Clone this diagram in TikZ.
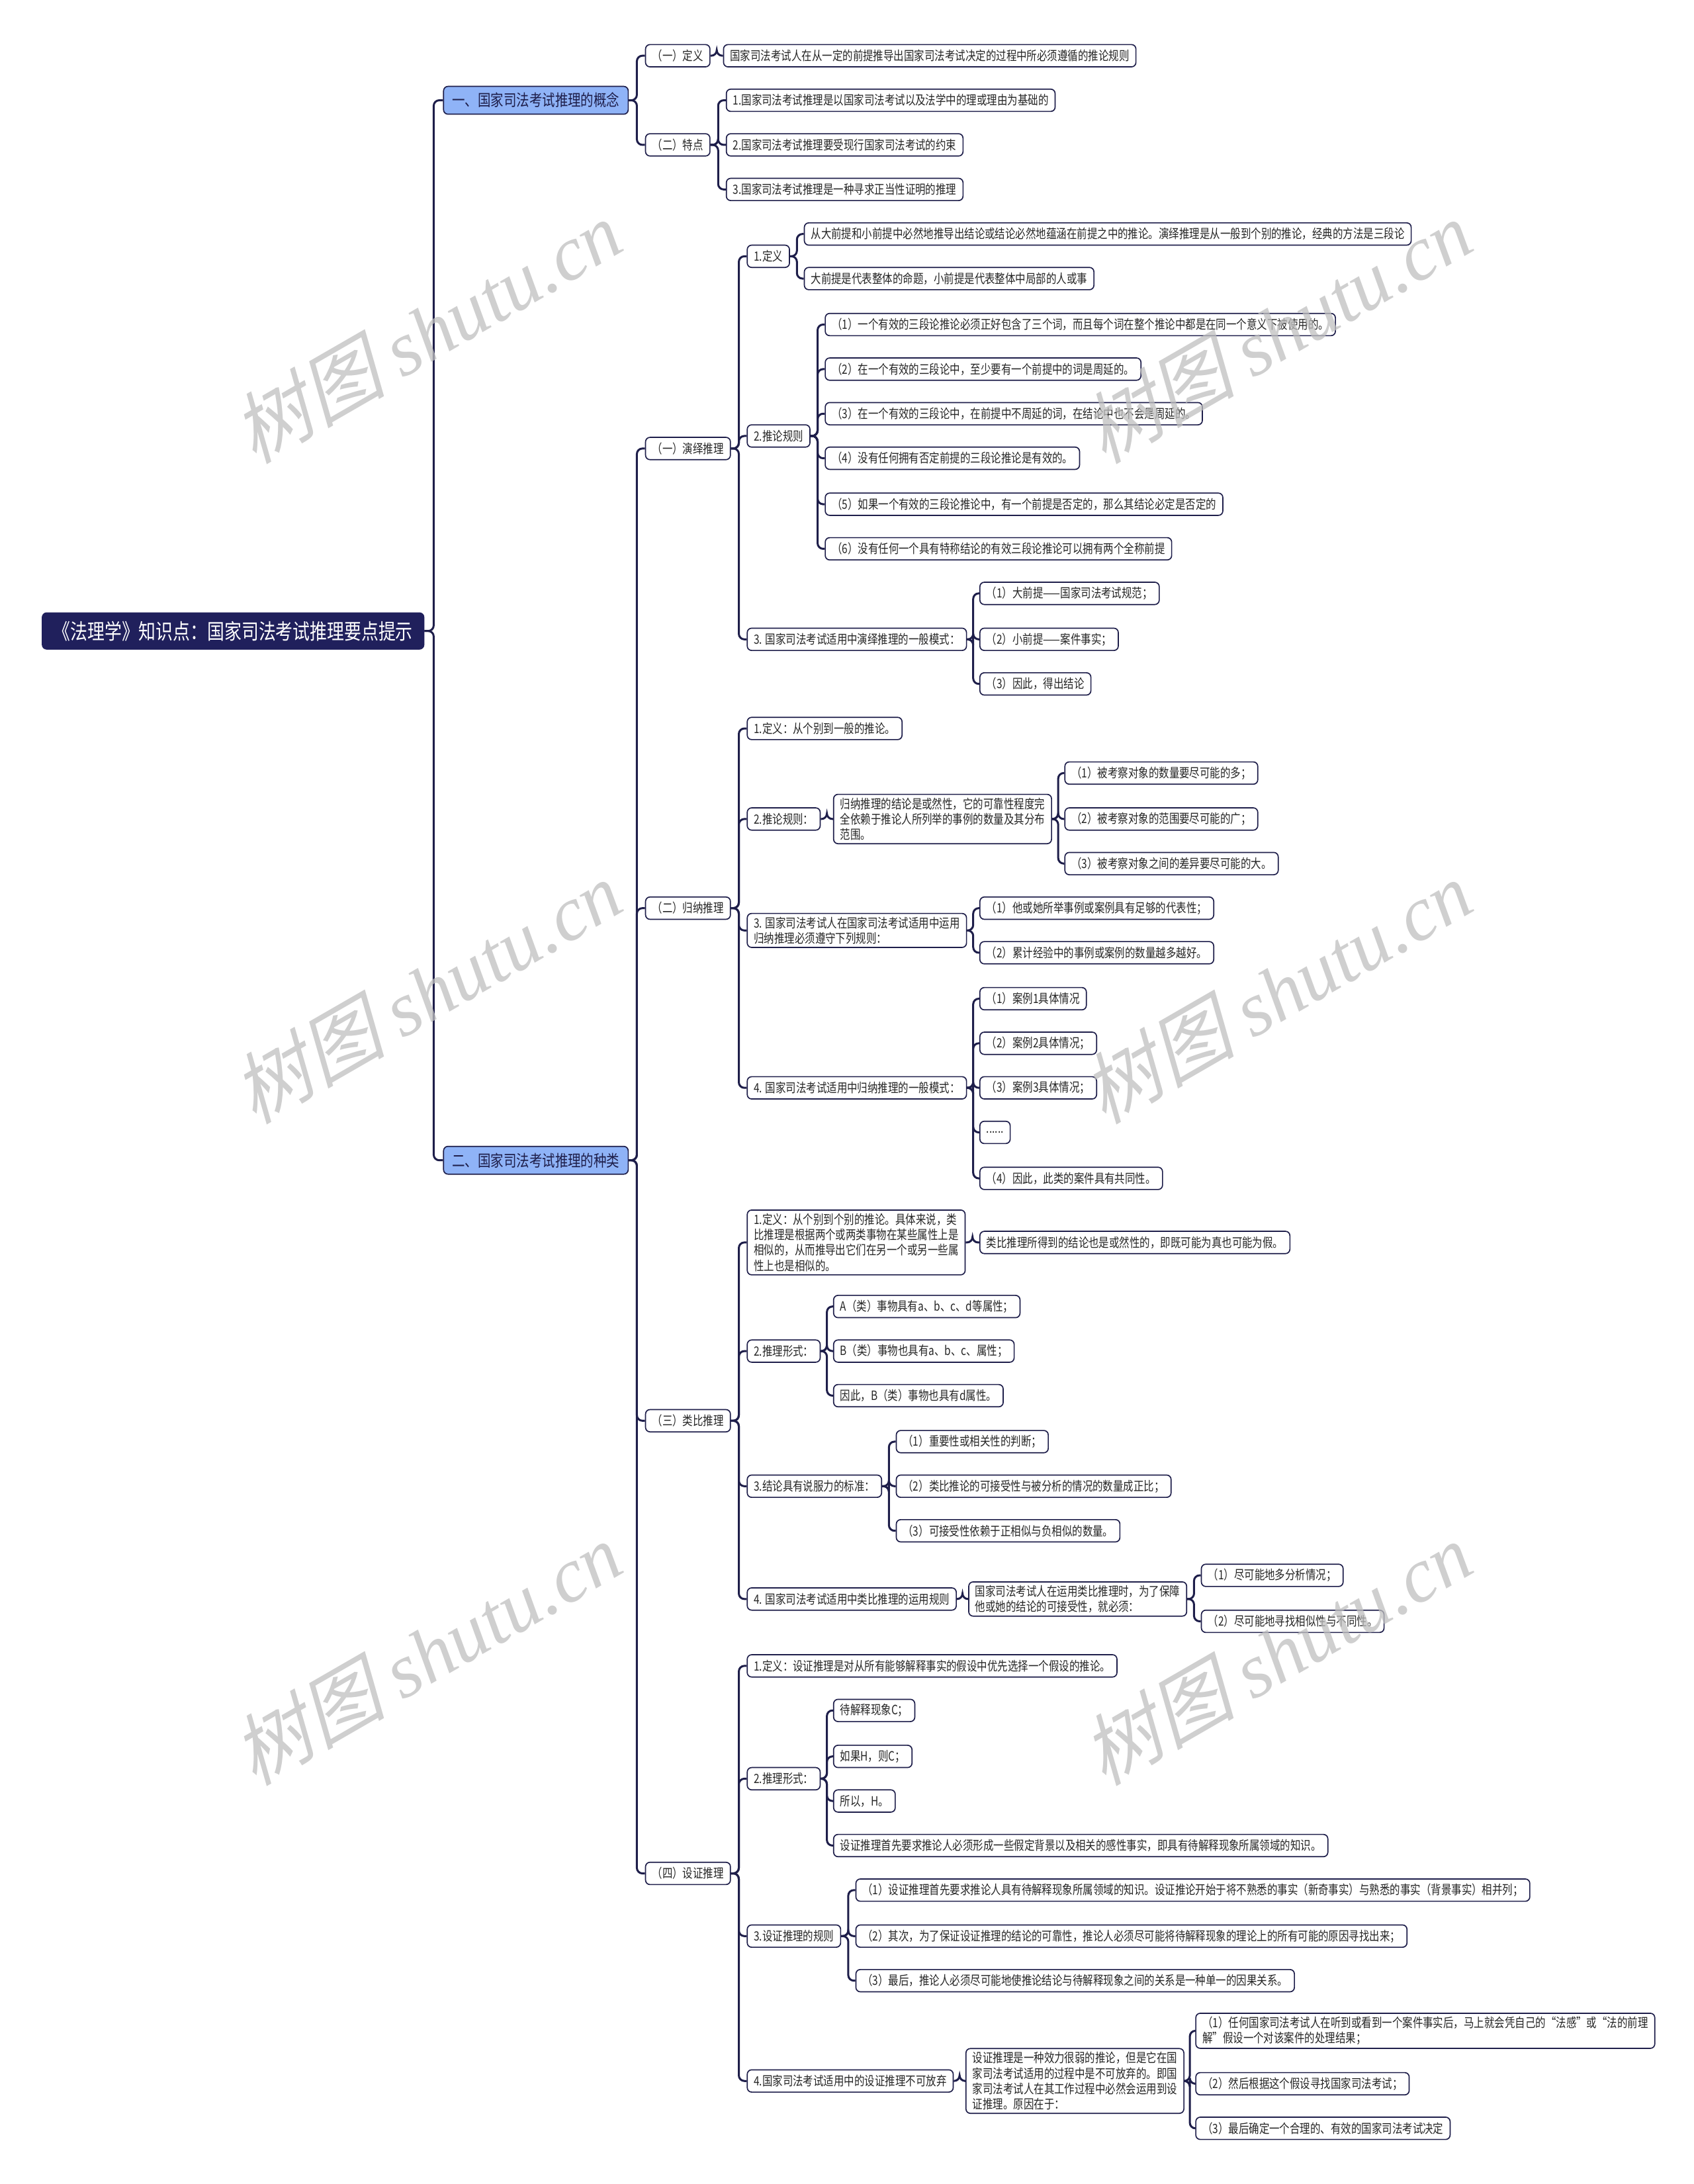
\documentclass[tikz,border=0pt]{standalone}
\usepackage{fontspec}
\setmainfont[FakeStretch=0.80]{Noto Sans CJK SC}
\newfontfamily\wmcjk[FakeSlant=0.25]{Noto Sans CJK SC}
\newfontfamily\wmlat{Liberation Serif}
\usetikzlibrary{calc}
\definecolor{ln}{HTML}{1E1E4A}
\definecolor{rootc}{HTML}{20205C}
\definecolor{lonec}{HTML}{8FB3F7}
\newcommand\lk[2]{\draw[cn] (#1.east) -- ($(#1.east)!0.5!(#1.east -| #2.west)$) |- (#2.west);}
\newcommand\wmark[2]{\node[rotate=30, text=black!25, opacity=0.75, inner sep=0pt] at (#1,#2) {\fontsize{35}{35}\selectfont\wmcjk 树图 \wmlat\itshape shutu.cn};}
\tikzset{
 bx/.style={draw=ln, fill=white, rounded corners=2pt, line width=0.5pt, inner xsep=3pt, inner ysep=1.5pt, minimum height=10.1pt, anchor=west, align=left, font=\fontsize{5.8}{7}\selectfont, text=black!85},
 lone/.style={bx, fill=lonec, minimum height=12.6pt, inner xsep=3.9pt, font=\fontsize{7.3}{8.5}\selectfont, text=ln},
 rt/.style={bx, fill=rootc, draw=rootc, text=white, minimum height=16.4pt, inner xsep=5pt, font=\fontsize{9.7}{11}\selectfont},
 cn/.style={draw=ln, line width=0.9pt, rounded corners=2.5pt},
}
\begin{document}
\begin{tikzpicture}[x=0.6316pt, y=-0.6316pt]
\fill[white] (0,0) rectangle (1216,1568);
\useasboundingbox (0,0) rectangle (1216,1568);

% root and level 1
\node[rt] (root) at (30,453) {《法理学》知识点：国家司法考试推理要点提示};
\node[lone] (A) at (318,72) {一、国家司法考试推理的概念};
\node[lone] (B) at (318,833) {二、国家司法考试推理的种类};

% part A
\node[bx] (A1) at (463,40) {（一）定义};
\node[bx] (A1a) at (519,40) {国家司法考试人在从一定的前提推导出国家司法考试决定的过程中所必须遵循的推论规则};
\node[bx] (A2) at (463,104) {（二）特点};
\node[bx] (A2a) at (521,72) {1.国家司法考试推理是以国家司法考试以及法学中的理或理由为基础的};
\node[bx] (A2b) at (521,104) {2.国家司法考试推理要受现行国家司法考试的约束};
\node[bx] (A2c) at (521,136) {3.国家司法考试推理是一种寻求正当性证明的推理};

% part B level 2
\node[bx] (B1) at (463,322) {（一）演绎推理};
\node[bx] (B2) at (463,652) {（二）归纳推理};
\node[bx] (B3) at (463,1020) {（三）类比推理};
\node[bx] (B4) at (463,1345) {（四）设证推理};

% B1
\node[bx] (d1) at (536,184) {1.定义};
\node[bx] (d1a) at (577,168) {从大前提和小前提中必然地推导出结论或结论必然地蕴涵在前提之中的推论。演绎推理是从一般到个别的推论，经典的方法是三段论};
\node[bx] (d1b) at (577,200) {大前提是代表整体的命题，小前提是代表整体中局部的人或事};
\node[bx] (d2) at (536,313) {2.推论规则};
\node[bx] (d21) at (592,233) {（1）一个有效的三段论推论必须正好包含了三个词，而且每个词在整个推论中都是在同一个意义下被使用的。};
\node[bx] (d22) at (592,265) {（2）在一个有效的三段论中，至少要有一个前提中的词是周延的。};
\node[bx] (d23) at (592,297) {（3）在一个有效的三段论中，在前提中不周延的词，在结论中也不会是周延的。};
\node[bx] (d24) at (592,329) {（4）没有任何拥有否定前提的三段论推论是有效的。};
\node[bx] (d25) at (592,362) {（5）如果一个有效的三段论推论中，有一个前提是否定的，那么其结论必定是否定的};
\node[bx] (d26) at (592,394) {（6）没有任何一个具有特称结论的有效三段论推论可以拥有两个全称前提};
\node[bx] (d3) at (536,459) {3. 国家司法考试适用中演绎推理的一般模式：};
\node[bx] (d31) at (703,426) {（1）大前提——国家司法考试规范；};
\node[bx] (d32) at (703,459) {（2）小前提——案件事实；};
\node[bx] (d33) at (703,491) {（3）因此，得出结论};

% B2
\node[bx] (g1) at (536,523) {1.定义：从个别到一般的推论。};
\node[bx] (g2) at (536,588) {2.推论规则：};
\node[bx] (g2m) at (598,588) {归纳推理的结论是或然性，它的可靠性程度完\\全依赖于推论人所列举的事例的数量及其分布\\范围。};
\node[bx] (g21) at (764,555) {（1）被考察对象的数量要尽可能的多；};
\node[bx] (g22) at (764,588) {（2）被考察对象的范围要尽可能的广；};
\node[bx] (g23) at (764,620) {（3）被考察对象之间的差异要尽可能的大。};
\node[bx] (g3) at (536,668) {3. 国家司法考试人在国家司法考试适用中运用\\归纳推理必须遵守下列规则：};
\node[bx] (g31) at (703,652) {（1）他或她所举事例或案例具有足够的代表性；};
\node[bx] (g32) at (703,684) {（2）累计经验中的事例或案例的数量越多越好。};
\node[bx] (g4) at (536,781) {4. 国家司法考试适用中归纳推理的一般模式：};
\node[bx] (g41) at (703,717) {（1）案例1具体情况};
\node[bx] (g42) at (703,749) {（2）案例2具体情况；};
\node[bx] (g43) at (703,781) {（3）案例3具体情况；};
\node[bx] (g44) at (703,813) {......};
\node[bx] (g45) at (703,846) {（4）因此，此类的案件具有共同性。};

% B3
\node[bx] (l1) at (536,892) {1.定义：从个别到个别的推论。具体来说，类\\比推理是根据两个或两类事物在某些属性上是\\相似的，从而推导出它们在另一个或另一些属\\性上也是相似的。};
\node[bx] (l1a) at (703,892) {类比推理所得到的结论也是或然性的，即既可能为真也可能为假。};
\node[bx] (l2) at (536,970) {2.推理形式：};
\node[bx] (l21) at (598,938) {A（类）事物具有a、b、c、d等属性；};
\node[bx] (l22) at (598,970) {B（类）事物也具有a、b、c、属性；};
\node[bx] (l23) at (598,1002) {因此，B（类）事物也具有d属性。};
\node[bx] (l3) at (536,1067) {3.结论具有说服力的标准：};
\node[bx] (l31) at (643,1035) {（1）重要性或相关性的判断；};
\node[bx] (l32) at (643,1067) {（2）类比推论的可接受性与被分析的情况的数量成正比；};
\node[bx] (l33) at (643,1099) {（3）可接受性依赖于正相似与负相似的数量。};
\node[bx] (l4) at (536,1148) {4. 国家司法考试适用中类比推理的运用规则};
\node[bx] (l4m) at (695,1148) {国家司法考试人在运用类比推理时，为了保障\\他或她的结论的可接受性，就必须：};
\node[bx] (l41) at (862,1131) {（1）尽可能地多分析情况；};
\node[bx] (l42) at (862,1164) {（2）尽可能地寻找相似性与不同性。};

% B4
\node[bx] (s1) at (536,1196) {1.定义：设证推理是对从所有能够解释事实的假设中优先选择一个假设的推论。};
\node[bx] (s2) at (536,1277) {2.推理形式：};
\node[bx] (s21) at (598,1228) {待解释现象C；};
\node[bx] (s22) at (598,1261) {如果H，则C；};
\node[bx] (s23) at (598,1293) {所以，H。};
\node[bx] (s24) at (598,1325) {设证推理首先要求推论人必须形成一些假定背景以及相关的感性事实，即具有待解释现象所属领域的知识。};
\node[bx] (s3) at (536,1390) {3.设证推理的规则};
\node[bx] (s31) at (614,1357) {（1）设证推理首先要求推论人具有待解释现象所属领域的知识。设证推论开始于将不熟悉的事实（新奇事实）与熟悉的事实（背景事实）相并列；};
\node[bx] (s32) at (614,1390) {（2）其次，为了保证设证推理的结论的可靠性，推论人必须尽可能将待解释现象的理论上的所有可能的原因寻找出来；};
\node[bx] (s33) at (614,1422) {（3）最后，推论人必须尽可能地使推论结论与待解释现象之间的关系是一种单一的因果关系。};
\node[bx] (s4) at (536,1494) {4.国家司法考试适用中的设证推理不可放弃};
\node[bx] (s4m) at (693,1494) {设证推理是一种效力很弱的推论，但是它在国\\家司法考试适用的过程中是不可放弃的。即国\\家司法考试人在其工作过程中必然会运用到设\\证推理。原因在于：};
\node[bx] (s41) at (858,1458) {（1）任何国家司法考试人在听到或看到一个案件事实后，马上就会凭自己的“法感”或“法的前理\\解”假设一个对该案件的处理结果；};
\node[bx] (s42) at (858,1496) {（2）然后根据这个假设寻找国家司法考试；};
\node[bx] (s43) at (858,1528) {（3）最后确定一个合理的、有效的国家司法考试决定};

% connectors
\lk{root}{A} \lk{root}{B}
\lk{A}{A1} \lk{A}{A2}
\lk{A1}{A1a}
\lk{A2}{A2a} \lk{A2}{A2b} \lk{A2}{A2c}
\lk{B}{B1} \lk{B}{B2} \lk{B}{B3} \lk{B}{B4}
\lk{B1}{d1} \lk{B1}{d2} \lk{B1}{d3}
\lk{d1}{d1a} \lk{d1}{d1b}
\lk{d2}{d21} \lk{d2}{d22} \lk{d2}{d23} \lk{d2}{d24} \lk{d2}{d25} \lk{d2}{d26}
\lk{d3}{d31} \lk{d3}{d32} \lk{d3}{d33}
\lk{B2}{g1} \lk{B2}{g2} \lk{B2}{g3} \lk{B2}{g4}
\lk{g2}{g2m}
\lk{g2m}{g21} \lk{g2m}{g22} \lk{g2m}{g23}
\lk{g3}{g31} \lk{g3}{g32}
\lk{g4}{g41} \lk{g4}{g42} \lk{g4}{g43} \lk{g4}{g44} \lk{g4}{g45}
\lk{B3}{l1} \lk{B3}{l2} \lk{B3}{l3} \lk{B3}{l4}
\lk{l1}{l1a}
\lk{l2}{l21} \lk{l2}{l22} \lk{l2}{l23}
\lk{l3}{l31} \lk{l3}{l32} \lk{l3}{l33}
\lk{l4}{l4m}
\lk{l4m}{l41} \lk{l4m}{l42}
\lk{B4}{s1} \lk{B4}{s2} \lk{B4}{s3} \lk{B4}{s4}
\lk{s2}{s21} \lk{s2}{s22} \lk{s2}{s23} \lk{s2}{s24}
\lk{s3}{s31} \lk{s3}{s32} \lk{s3}{s33}
\lk{s4}{s4m}
\lk{s4m}{s41} \lk{s4m}{s42} \lk{s4m}{s43}

% watermarks
\wmark{306}{238} \wmark{916}{238}
\wmark{306}{712} \wmark{916}{712}
\wmark{306}{1187} \wmark{916}{1187}
\end{tikzpicture}
\end{document}
